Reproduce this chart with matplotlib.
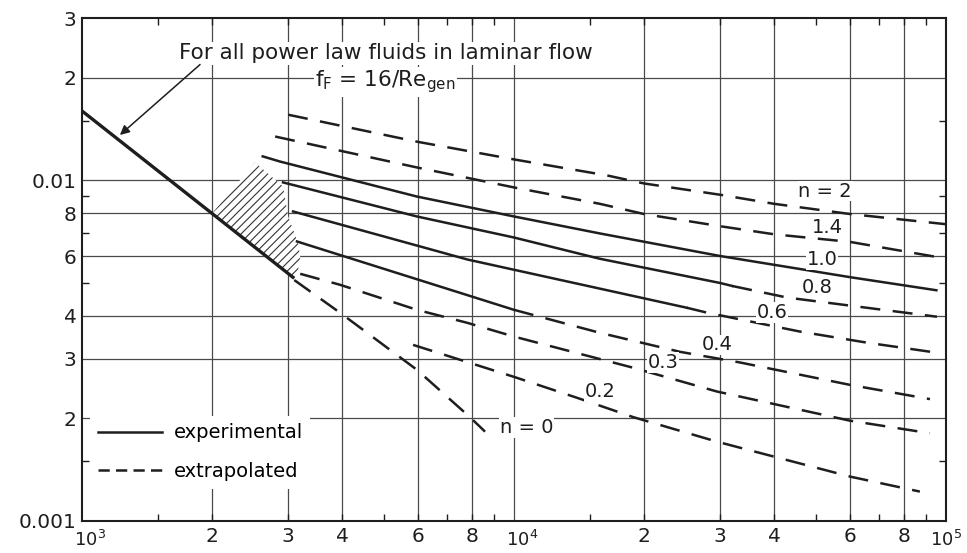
import matplotlib
matplotlib.use('Agg')
import matplotlib.pyplot as plt
from matplotlib import ticker
from matplotlib.lines import Line2D
from matplotlib.transforms import ScaledTranslation
import numpy as np

plt.rcParams['font.family'] = 'DejaVu Sans'
plt.rcParams['mathtext.default'] = 'regular'
plt.rcParams['hatch.linewidth'] = 0.8

# laminar line, f = 16/Re
re_lam = [1000, 2000, 3100]
f_lam = [0.016, 0.008, 0.00516]

# hatched transition band
re_band = [2000, 2515, 2920, 3000, 3080, 3160, 3200, 3160, 3100]
f_band = [0.008, 0.0113, 0.0096, 0.00784, 0.00718, 0.00657, 0.00598, 0.0054, 0.00516]

# flow behaviour index curves (Re_gen, f_F)
re_n2 = [3000, 5960, 10000, 16400, 20000, 30000, 40000, 60000, 100000]
f_n2 = [0.0156, 0.0130, 0.01153, 0.01035, 0.0098, 0.00908, 0.00854, 0.00797, 0.00744]

re_n14 = [2800, 5960, 10000, 15800, 20000, 30000, 40000, 60000, 96000]
f_n14 = [0.01346, 0.01092, 0.00954, 0.00854, 0.00797, 0.00734, 0.00695, 0.0066, 0.00595]

re_n10 = [2620, 2870, 5960, 10000, 15800, 30000, 60000, 95000]
f_n10 = [0.01177, 0.01137, 0.00897, 0.00784, 0.00699, 0.006, 0.0052, 0.00476]

re_n08 = [2920, 5960, 10000, 15800, 30000, 32000, 42900, 60000, 95300]
f_n08 = [0.00987, 0.00784, 0.0068, 0.00589, 0.005, 0.0049, 0.00453, 0.00429, 0.00398]

re_n06 = [3080, 5960, 7800, 25100, 28000, 45900, 65600, 95300]
f_n06 = [0.00811, 0.00644, 0.00586, 0.00423, 0.00409, 0.0036, 0.00334, 0.00312]

re_n04 = [3145, 10000, 15800, 24200, 33400, 60000, 91800]
f_n04 = [0.00662, 0.00417, 0.00357, 0.00314, 0.00292, 0.00251, 0.00228]

re_n03 = [3200, 3955, 5960, 7790, 10000, 18850, 29500, 60000, 91800]
f_n03 = [0.00532, 0.00494, 0.00417, 0.00382, 0.00348, 0.00282, 0.0024, 0.00197, 0.00181]

re_n02 = [5840, 10000, 14000, 18850, 29500, 60000, 87000]
f_n02 = [0.00329, 0.00265, 0.0023, 0.00202, 0.00171, 0.00135, 0.00122]

re_n0 = [3100, 3955, 5960, 7900, 8570]
f_n0 = [0.0051, 0.00409, 0.00278, 0.00202, 0.00183]

# Re_gen where the experimental (solid) part ends, None = all extrapolated
curves = [
    (re_n2, f_n2, None),
    (re_n14, f_n14, None),
    (re_n10, f_n10, 95000),
    (re_n08, f_n08, 32000),
    (re_n06, f_n06, 25100),
    (re_n04, f_n04, 10000),
    (re_n03, f_n03, None),
    (re_n02, f_n02, None),
    (re_n0, f_n0, None),
]

curve_labels = ['n = 2', '1.4', '1.0', '0.8', '0.6', '0.4', '0.3', '0.2', 'n = 0']
label_re = [52500, 53000, 51600, 50300, 39500, 29500, 22100, 15800, 10700]
label_f = [0.0093, 0.0073, 0.00586, 0.00484, 0.00409, 0.00329, 0.00292, 0.0024, 0.00188]

x_major = [1e3, 1e4, 1e5]
x_major_labels = [r'$10^3$', r'$10^4$', r'$10^5$']
x_minor = [1500, 2000, 3000, 4000, 5000, 6000, 7000, 8000, 9000,
           15000, 20000, 30000, 40000, 50000, 60000, 70000, 80000, 90000]
x_minor_labels = ['', '2', '3', '4', '', '6', '', '8', '',
                  '', '2', '3', '4', '', '6', '', '8', '']
y_major = [0.001, 0.002, 0.003, 0.004, 0.006, 0.008, 0.01, 0.02, 0.03]
y_major_labels = ['0.001', '2', '3', '4', '6', '8', '0.01', '2', '3']
y_minor = [0.0015, 0.005, 0.007, 0.009, 0.015]

x_grid = [2e3, 3e3, 4e3, 6e3, 8e3, 1e4, 2e4, 3e4, 4e4, 6e4, 8e4]
y_grid = [0.002, 0.003, 0.004, 0.006, 0.008, 0.01, 0.02]

ink = '#1e1e1e'
grid_c = '#4a4a4a'
dash = (0, (8, 5))

fig = plt.figure(figsize=(9.67, 5.53), dpi=100)
ax = fig.add_axes([82 / 967, 32 / 553, 864 / 967, 503 / 553])
ax.set_xscale('log')
ax.set_yscale('log')
ax.set_xlim(1e3, 1e5)
ax.set_ylim(1e-3, 3e-2)

for v in x_grid:
    ax.axvline(v, color=grid_c, lw=0.9, zorder=1)
for v in y_grid:
    ax.axhline(v, color=grid_c, lw=0.9, zorder=1)

# hatched band and laminar line
ax.fill(re_band, f_band, facecolor='white', edgecolor='#333333',
        hatch='////', linewidth=0, zorder=2)
ax.plot(re_lam, f_lam, color=ink, lw=2.4, zorder=4, solid_capstyle='butt')

for re, f, solid_to in curves:
    re = np.array(re)
    f = np.array(f)
    if solid_to is not None:
        m = re <= solid_to
        ax.plot(re[m], f[m], color=ink, lw=1.8, zorder=4)
        m = re >= solid_to
    else:
        m = np.ones(len(re), bool)
    if m.sum() > 1:
        ax.plot(re[m], f[m], color=ink, lw=1.8, linestyle=dash, zorder=4)

for txt, xr, yf in zip(curve_labels, label_re, label_f):
    ax.text(xr, yf, txt, ha='center', va='center', fontsize=14, color=ink,
            zorder=6, bbox=dict(fc='white', ec='none', pad=0.5))

# annotation for laminar line
ax.text(0.352, 0.930, 'For all power law fluids in laminar flow',
        transform=ax.transAxes, ha='center', va='center', fontsize=15.5,
        color=ink, zorder=6, bbox=dict(fc='white', ec='none', pad=1))
ax.text(0.27, 0.873, r'f$_{F}$ = 16/Re$_{gen}$', transform=ax.transAxes,
        ha='left', va='center', fontsize=15.5, color=ink, zorder=6,
        bbox=dict(fc='white', ec='none', pad=1))
ax.annotate('', xy=(1224, 0.0136), xytext=(1876, 0.0219),
            arrowprops=dict(arrowstyle='-|>', color=ink, lw=1.1,
                            mutation_scale=14, shrinkA=0, shrinkB=0),
            zorder=6)

# ticks
ax.xaxis.set_major_locator(ticker.FixedLocator(x_major))
ax.xaxis.set_major_formatter(ticker.FixedFormatter(x_major_labels))
ax.xaxis.set_minor_locator(ticker.FixedLocator(x_minor))
ax.xaxis.set_minor_formatter(ticker.FixedFormatter(x_minor_labels))
ax.yaxis.set_major_locator(ticker.FixedLocator(y_major))
ax.yaxis.set_major_formatter(ticker.FixedFormatter(y_major_labels))
ax.yaxis.set_minor_locator(ticker.FixedLocator(y_minor))
ax.yaxis.set_minor_formatter(ticker.NullFormatter())

ax.tick_params(which='both', direction='in', top=True, right=True,
               colors=ink, labelsize=14.5)
ax.tick_params(which='major', length=0)
ax.tick_params(axis='x', which='major', pad=6.5, labelsize=13)
ax.tick_params(axis='x', which='minor', length=5, width=1, pad=4)
ax.tick_params(axis='y', which='minor', length=5, width=1)
ax.tick_params(axis='y', which='major', pad=4)

# decade labels sit a little right of their tick, the last one stays at the edge
for lab, dx in zip(ax.xaxis.get_majorticklabels(), [6, 6, 0]):
    lab.set_transform(lab.get_transform() +
                      ScaledTranslation(dx / 72, 0, fig.dpi_scale_trans))

for sp in ax.spines.values():
    sp.set_linewidth(1.5)
    sp.set_color(ink)
    sp.set_zorder(8)

handles = [Line2D([], [], color=ink, lw=1.8),
           Line2D([], [], color=ink, lw=1.8, linestyle=(0, (4.5, 2.5)))]
leg = ax.legend(handles, ['experimental', 'extrapolated'], loc='center left',
                bbox_to_anchor=(0.009, 0.137), frameon=True, fancybox=False,
                edgecolor='none', facecolor='white', framealpha=1, fontsize=14,
                handlelength=3.3, handletextpad=0.6, labelspacing=1.0,
                borderaxespad=0, borderpad=0.4)
leg.set_zorder(7)

fig.savefig('out.png', dpi=100, facecolor='white')
